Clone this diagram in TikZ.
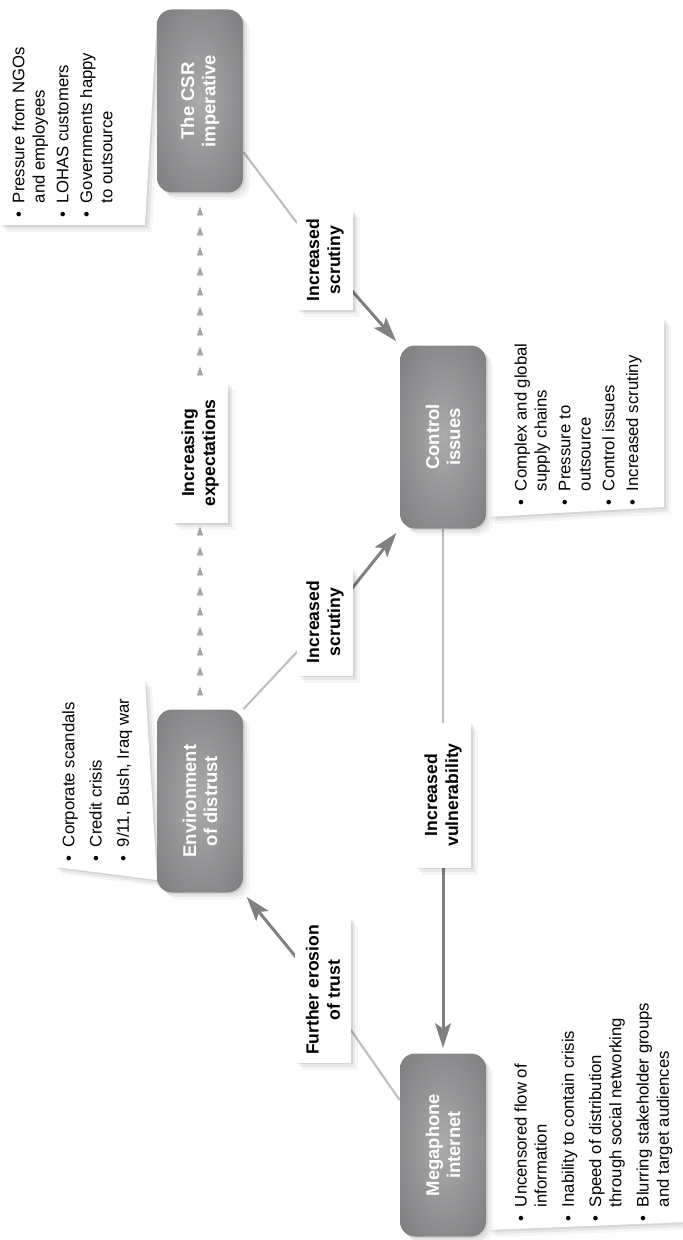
\documentclass[tikz,border=0pt]{standalone}
\usepackage{fontspec}
\setmainfont{Liberation Sans}
\usepackage{xcolor}
\usepackage{tikz}
\usetikzlibrary{arrows.meta}
\usetikzlibrary{shadows, backgrounds}
\usetikzlibrary{decorations, decorations.markings}
\usetikzlibrary{shapes,positioning}
\definecolor{issueDark}{HTML}{6C6C6E}
\definecolor{issueMidDark}{HTML}{7E7E80}
\definecolor{issueMid}{HTML}{939395}
\definecolor{issueLight}{HTML}{ABABAD}
\definecolor{lineLight}{HTML}{BEBEBE}
\definecolor{lineDark}{HTML}{808082}
\definecolor{markGray}{HTML}{A2A2A2}
\pgfdeclareradialshading{issue-shade}{\pgfpoint{0bp}{0bp}}{color(0bp)=(issueLight); color(18bp)=(issueMid); color(36bp)=(issueMidDark); color(50bp)=(issueDark)}
\tikzset{>=Stealth}
\tikzset{soft-shadow/.style={
    drop shadow={shadow xshift=1pt, shadow yshift=-1pt, opacity=0.08, fill=black},
    drop shadow={shadow xshift=2.5pt, shadow yshift=-2.5pt, opacity=0.06, fill=black},
    drop shadow={shadow xshift=4pt, shadow yshift=-4pt, opacity=0.04, fill=black}}}
\tikzset{issue-node/.style={rotate=90, rounded corners=0.3cm, minimum width=3.66cm, minimum height=1.72cm,
    inner sep=0, shading=issue-shade, shade, soft-shadow,
    text=white, font=\fontsize{10.5}{12}\selectfont\bfseries, align=center}}
\tikzset{label-box/.style={rotate=90, fill=white, soft-shadow, inner sep=0, minimum height=1.12cm,
    font=\fontsize{10}{12}\selectfont\bfseries, align=center}}
\tikzset{bullet-box/.style={fill=white, soft-shadow}}
\tikzset{bullet-text/.style={rotate=90, anchor=north west, inner sep=0, font=\fontsize{9.5}{11.5}\selectfont}}
\tikzset{flow-line/.style={line width=1.2pt, color=lineLight}}
\tikzset{flow-arrow/.style={line width=1.7pt, color=lineDark, -{Stealth[length=14pt, width=9pt, inset=3pt]}, shorten >=3pt}}
\tikzset{expect-line/.style={decorate,
    decoration={markings, mark=between positions 0.45cm and 1 step 0.4cm with {\arrow{Triangle[length=5pt, width=3.5pt, color=markGray]}}}}}
\newcommand{\bullets}[1]{\begin{tabular}{@{}l@{\hspace{5pt}}l@{}}#1\end{tabular}}

\begin{document}
\begin{tikzpicture}
    \useasboundingbox (0,0) rectangle (13.64,-24.8);

    % bullet boxes
    \path[bullet-box] (0,0.1) -- (3.14,-0.34) -- (2.9,-4.5) -- (0,-4.5) -- cycle;
    \path[bullet-box] (10.08,-6.4) -- (13.28,-6.36) -- (13.28,-10.14) -- (9.76,-10.34) -- cycle;
    \path[bullet-box] (1.1,-13.6) -- (2.9,-13.6) -- (3.14,-17.6) -- (1.1,-17.34) -- cycle;
    \path[bullet-box] (10.08,-19.24) -- (13.8,-18.9) -- (13.8,-24.44) -- (9.76,-24.6) -- cycle;

    \node[bullet-text] (csrlist) at (0.2,-4.36) {\bullets{
        \textbullet & Pressure from NGOs\\ & and employees\\[2pt]
        \textbullet & LOHAS customers\\[2pt]
        \textbullet & Governments happy\\ & to outsource}};
    \node[bullet-text] (ctrllist) at (10.24,-10.12) {\bullets{
        \textbullet & Complex and global\\ & supply chains\\[2pt]
        \textbullet & Pressure to\\ & outsource\\[2pt]
        \textbullet & Control issues\\[2pt]
        \textbullet & Increased scrutiny}};
    \node[bullet-text] (envlist) at (1.2,-17.24) {\bullets{
        \textbullet & Corporate scandals\\[4pt]
        \textbullet & Credit crisis\\[4pt]
        \textbullet & 9/11, Bush, Iraq war}};
    \node[bullet-text] (megalist) at (10.24,-24.44) {\bullets{
        \textbullet & Uncensored flow of\\ & information\\[4pt]
        \textbullet & Inability to contain crisis\\[4pt]
        \textbullet & Speed of distribution\\ & through social networking\\[4pt]
        \textbullet & Blurring stakeholder groups\\ & and target audiences}};

    % issues
    \node[issue-node] (csr) at (4.0,-2.02) {The CSR\\imperative};
    \node[issue-node] (ctrl) at (8.86,-8.74) {Control\\issues};
    \node[issue-node] (env) at (4.0,-16.02) {Environment\\of distrust};
    \node[issue-node] (mega) at (8.86,-22.9) {Megaphone\\internet};

    % labels
    \node[label-box, minimum width=2.0cm] (scrutA) at (6.5,-5.2) {Increased\\scrutiny};
    \node[label-box, minimum width=2.8cm] (expect) at (4.0,-9.06) {Increasing\\expectations};
    \node[label-box, minimum width=2.14cm] (scrutB) at (6.5,-12.44) {Increased\\scrutiny};
    \node[label-box, minimum width=2.9cm] (vuln) at (8.86,-15.9) {Increased\\vulnerability};
    \node[label-box, minimum width=2.9cm] (erosion) at (6.46,-19.8) {Further erosion\\of trust};

    \begin{scope}[on background layer]
        \draw[flow-line] ([yshift=-1.02cm]csr.south) -- (scrutA.center);
        \draw[flow-arrow] (scrutA.center) -- (ctrl.north east);
        \draw[flow-line] (env.south east) -- (scrutB.center);
        \draw[flow-arrow] (scrutB.center) -- (ctrl.north west);
        \draw[flow-line] (ctrl.west) -- (vuln.center);
        \draw[flow-arrow] (vuln.center) -- (mega.east);
        \draw[flow-line] ([yshift=0.9cm]mega.north) -- (erosion.center);
        \draw[flow-arrow] (erosion.center) -- (env.south west);
        \path[expect-line] (env.east) -- (expect.center) -- (csr.west);
    \end{scope}
\end{tikzpicture}
\end{document}
